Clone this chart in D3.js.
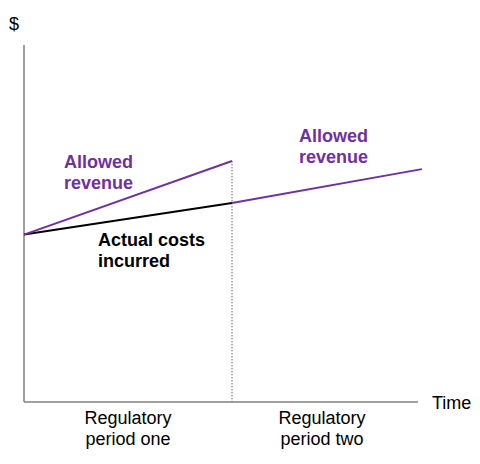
<!DOCTYPE html>
<html>
<head>
<meta charset="utf-8">
<script src="https://cdn.jsdelivr.net/npm/d3@7"></script>
<style>
  body { margin: 0; background: #fff; }
  text { font-family: "Liberation Sans", Arial, sans-serif; }
</style>
</head>
<body>
<svg id="chart" width="480" height="464"></svg>
<script>
// time in regulatory periods, value in arbitrary $ units
var periodNames = [["Regulatory", "period one"], ["Regulatory", "period two"]];
var allowedOne = [{t: 0, v: 45}, {t: 1, v: 64.8}];
var actualCosts = [{t: 0, v: 45}, {t: 1, v: 53.5}];
var allowedTwo = [{t: 1, v: 53.5}, {t: 1.913, v: 62.6}];
var axisEnd = {t: 1.894, v: 96};

var svg = d3.select("#chart");
var purple = "#7030a0";

var x = d3.scaleLinear().domain([0, 2]).range([24, 440]);
var y = d3.scaleLinear().domain([0, 100]).range([402, 30]);

// axes
svg.append("line")
  .attr("x1", x(0)).attr("x2", x(0))
  .attr("y1", y(0)).attr("y2", y(axisEnd.v))
  .attr("stroke", "#808080").attr("stroke-width", 1.5);
svg.append("line")
  .attr("x1", x(0)).attr("x2", x(axisEnd.t))
  .attr("y1", y(0)).attr("y2", y(0))
  .attr("stroke", "#808080").attr("stroke-width", 1.5);

// boundary between periods
svg.append("line")
  .attr("x1", x(1)).attr("x2", x(1))
  .attr("y1", y(allowedOne[1].v)).attr("y2", y(0))
  .attr("stroke", "#666").attr("stroke-width", 1)
  .attr("stroke-dasharray", "1.5,1.5");

var line = d3.line().x(function(d) { return x(d.t); }).y(function(d) { return y(d.v); });

svg.append("path").datum(actualCosts)
  .attr("d", line).attr("fill", "none")
  .attr("stroke", "#000").attr("stroke-width", 2);
svg.append("path").datum(allowedOne)
  .attr("d", line).attr("fill", "none")
  .attr("stroke", purple).attr("stroke-width", 2);
svg.append("path").datum(allowedTwo)
  .attr("d", line).attr("fill", "none")
  .attr("stroke", purple).attr("stroke-width", 2);

// labels
function label(lines, px, py, color, bold, anchor) {
  var t = svg.append("text")
    .attr("x", px).attr("y", py)
    .attr("fill", color)
    .attr("font-size", 18)
    .attr("font-weight", bold ? "bold" : "normal")
    .attr("text-anchor", anchor || "start");
  lines.forEach(function(s, i) {
    t.append("tspan").attr("x", px).attr("dy", i ? 21 : 0).text(s);
  });
}

label(["$"], 9, 30, "#000", false);
label(["Time"], 432, 409, "#000", false);
label(["Allowed", "revenue"], 64, 168, purple, true);
label(["Allowed", "revenue"], 299, 142, purple, true);
label(["Actual costs", "incurred"], 98, 246, "#000", true);

periodNames.forEach(function(p, i) {
  label(p, x(i + 0.5) - (i ? 14 : 0), 424, "#000", false, "middle");
});
</script>
</body>
</html>
